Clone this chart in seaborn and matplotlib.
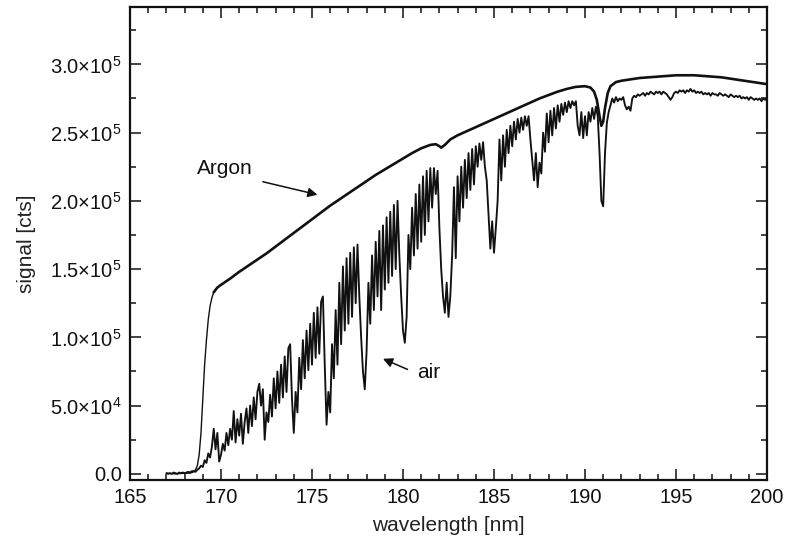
import numpy as np
import pandas as pd
import seaborn as sns
import matplotlib.pyplot as plt
from matplotlib.ticker import MultipleLocator, FuncFormatter

# air spectrum, sampled every 0.1 nm from 167.0 to 200.0 nm, values in 10^3 counts
air_start = 167.0
air_step = 0.1
air_kcts = [
    0.5, 0, 0.5, 0, 1, 0.5, 0, 1, 0.5, 1,            # 167
    0.5, 1, 1.5, 1, 2, 2, 1.5, 3, 4, 6,              # 168
    5, 10, 8, 15, 12, 20, 33, 18, 30, 9,             # 169
    14, 22, 17, 30, 21, 33, 25, 46, 23, 40,          # 170
    28, 44, 22, 38, 48, 30, 50, 35, 56, 40,          # 171
    60, 66, 50, 62, 25, 45, 38, 58, 42, 70,          # 172
    48, 75, 52, 80, 56, 86, 60, 92, 95, 55,          # 173
    30, 60, 45, 85, 62, 98, 70, 105, 76, 110,        # 174
    80, 118, 85, 122, 88, 126, 130, 80, 36, 60,      # 175
    45, 95, 70, 120, 80, 140, 95, 152, 105, 158,     # 176
    110, 162, 115, 166, 125, 168, 130, 100, 75, 62,  # 177
    90, 140, 110, 160, 120, 170, 130, 178, 120, 182,   # 178
    135, 188, 140, 192, 145, 197, 150, 200, 160, 130,  # 179
    105, 96, 115, 175, 150, 195, 160, 205, 165, 212,   # 180
    170, 218, 175, 222, 185, 224, 195, 224, 205, 222,  # 181
    180, 150, 130, 118, 140, 115, 130, 160, 210, 158,  # 182
    218, 185, 225, 195, 230, 202, 235, 208, 238, 212,  # 183
    240, 225, 242, 230, 243, 225, 215, 190, 165, 185,  # 184
    162, 180, 200, 245, 215, 248, 225, 252, 235, 255,  # 185
    240, 258, 245, 260, 250, 261, 252, 262, 255, 262,  # 186
    245, 230, 215, 235, 210, 228, 220, 250, 236, 264,  # 187
    243, 266, 248, 268, 253, 270, 258, 271, 263, 272,  # 188
    265, 273, 268, 273, 270, 273, 255, 248, 265, 246,  # 189
    262, 248, 265, 258, 268, 260, 269, 262, 235, 200,  # 190
    196, 235, 257, 265, 270, 275, 272, 276, 273, 275,  # 191
    274, 276, 270, 267, 269, 266, 275, 277, 276, 278,  # 192
    277, 278, 279, 277, 279, 278, 280, 279, 278, 280,  # 193
    279, 280, 278, 280, 279, 278, 276, 274, 276, 279,  # 194
    280, 279, 281, 280, 281, 279, 281, 280, 282, 280,  # 195
    281, 279, 280, 279, 280, 278, 279, 278, 279, 277,  # 196
    279, 278, 278, 277, 279, 278, 277, 278, 277, 276,  # 197
    278, 277, 276, 277, 276, 277, 275, 276, 275, 276,  # 198
    274, 276, 275, 274, 275, 274, 275, 273, 275, 274,  # 199
    275,                                               # 200
]

# argon-purged spectrum
argon_nm = [167.0, 167.5, 168.0, 168.3, 168.5, 168.6, 168.7, 168.8, 168.9,
            169.0, 169.1, 169.2, 169.3, 169.4, 169.5, 169.6, 169.8,
            170.0, 170.5, 171.0, 171.5, 172.0, 172.5, 173.0, 173.5,
            174.0, 174.5, 175.0, 175.5, 176.0, 176.5, 177.0, 177.5,
            178.0, 178.5, 179.0, 179.5, 180.0, 180.5, 181.0, 181.5,
            181.8, 182.0, 182.1, 182.3, 182.6, 183.0, 183.5, 184.0,
            184.5, 185.0, 185.5, 186.0, 186.5, 187.0, 187.5, 188.0,
            188.5, 189.0, 189.5, 190.0, 190.3, 190.5, 190.65, 190.8,
            190.9, 191.0, 191.1, 191.25, 191.4, 191.7, 192.0, 192.5,
            193.0, 193.5, 194.0, 194.5, 195.0, 195.5, 196.0, 196.5,
            197.0, 197.5, 198.0, 198.5, 199.0, 199.5, 200.0]
argon_kcts = [0.5, 0, 0.5, 0.5, 1.5, 3, 6, 14, 30,
              55, 80, 98, 113, 123, 129, 133, 136.5,
              138.5, 143, 148, 152.5, 157, 161.5, 166.5, 171.5,
              176.5, 181.5, 186.5, 191.5, 196.5, 201, 205.5, 210,
              214.5, 219, 223, 227, 231, 235, 238.5, 241,
              241.5, 240, 239, 241, 245, 248, 251, 254,
              257, 260, 263, 266, 269, 272, 275, 277.5,
              280, 282, 283.5, 284, 283, 280, 274, 262,
              255, 258, 268, 279, 284, 287, 288, 289,
              290, 290.5, 291, 291.5, 292, 292, 292, 291.5,
              291, 290.5, 289.5, 288.5, 287.5, 286.5, 285.5]

air = pd.DataFrame({
    'wavelength': np.round(air_start + air_step * np.arange(len(air_kcts)), 2),
    'signal': np.array(air_kcts) * 1e3,
})
argon = pd.DataFrame({'wavelength': argon_nm, 'signal': np.array(argon_kcts) * 1e3})

sns.set_theme(style='ticks')
plt.rcParams['font.family'] = ['Liberation Sans', 'DejaVu Sans']
plt.rcParams['mathtext.fontset'] = 'custom'
plt.rcParams['mathtext.rm'] = 'Liberation Sans'
plt.rcParams['mathtext.default'] = 'regular'

ink = '#111111'
fig = plt.figure(figsize=(7.86, 5.4), dpi=100)
ax = fig.add_axes([0.1654, 0.1111, 0.8104, 0.8759])

# thin rising edge, thicker (noisy looking) plateau
rise = argon[argon['wavelength'] <= 169.8]
plateau = argon[argon['wavelength'] >= 169.6]
sns.lineplot(data=rise, x='wavelength', y='signal', ax=ax, color=ink,
             lw=1.0, estimator=None, sort=False)
sns.lineplot(data=plateau, x='wavelength', y='signal', ax=ax, color=ink,
             lw=1.9, estimator=None, sort=False)
sns.lineplot(data=air, x='wavelength', y='signal', ax=ax, color=ink,
             lw=1.35, estimator=None, sort=False)

ax.set_xlim(165, 200)
ax.set_ylim(-4500, 342000)
ax.xaxis.set_major_locator(MultipleLocator(5))
ax.xaxis.set_minor_locator(MultipleLocator(1))
ax.yaxis.set_major_locator(MultipleLocator(50000))
ax.yaxis.set_minor_locator(MultipleLocator(25000))


def sci(v, pos):
    if abs(v) < 1:
        return '0.0'
    e = int(np.floor(np.log10(abs(v))))
    return r'$%.1f{\times}10^{%d}$' % (v / 10 ** e, e)


ax.yaxis.set_major_formatter(FuncFormatter(sci))
ax.tick_params(which='both', direction='in', top=True, right=True,
               labelsize=14.5, colors=ink, width=1.1)
ax.tick_params(which='major', length=8, pad=6)
ax.tick_params(which='minor', length=4.5)
for s in ax.spines.values():
    s.set_linewidth(1.6)
    s.set_color(ink)

ax.set_xlabel('wavelength [nm]', fontsize=15, color='#222222', labelpad=6)
ax.set_ylabel('signal [cts]', fontsize=15, color='#222222', labelpad=10)

arrow = dict(arrowstyle='-|>', color=ink, lw=1.1, mutation_scale=14,
             shrinkA=0, shrinkB=0)
ax.text(170.2, 223600, 'Argon', fontsize=15, ha='center', va='center', color=ink)
ax.annotate('', xy=(175.3, 204500), xytext=(172.3, 214000), arrowprops=arrow)
ax.text(181.43, 74000, 'air', fontsize=15, ha='center', va='center', color=ink)
ax.annotate('', xy=(178.9, 84300), xytext=(180.25, 76500), arrowprops=arrow)

fig.savefig('out.png', dpi=100)
